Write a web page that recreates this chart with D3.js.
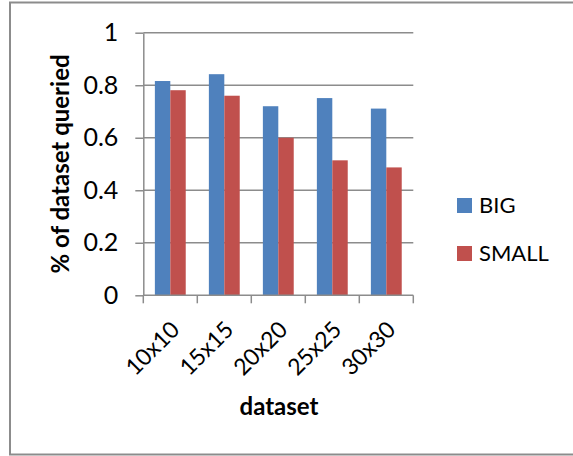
<!DOCTYPE html>
<html><head><meta charset="utf-8">
<script src="https://cdn.jsdelivr.net/npm/d3@7"></script>
<style>body{margin:0;background:#fff}svg{display:block}</style>
</head><body>
<script>
const categories = ["10x10","15x15","20x20","25x25","30x30"];
const seriesNames = ["BIG","SMALL"];
const bigValues = [0.816,0.842,0.720,0.751,0.711];
const smallValues = [0.781,0.760,0.600,0.514,0.487];
const yTicks = [0,0.2,0.4,0.6,0.8,1];
const colors = ["#4F81BD","#C0504D"];

(function(){
const W=573,H=456;
const svg=d3.select("body").append("svg").attr("width",W).attr("height",H);
const font="Lato, 'Open Sans', sans-serif";
svg.append("rect").attr("x",10).attr("y",2.5).attr("width",580).attr("height",452)
  .attr("fill","#fff").attr("stroke","#8c8c8c").attr("stroke-width",2);

const pL=143.3,pR=413.3,pT=32.7,pB=295.3;
const x=d3.scaleBand().domain(categories).range([pL,pR]).paddingInner(0).paddingOuter(0);
const bw=x.bandwidth()/3.5;
const xs=d3.scaleBand().domain(seriesNames).range([x.bandwidth()*0.75/3.5, x.bandwidth()*0.75/3.5+2*bw]);
const y=d3.scaleLinear().domain([0,1]).range([pB,pT]);

// gridlines
svg.append("g").selectAll("line").data(yTicks.filter(d=>d>0)).join("line")
  .attr("x1",pL).attr("x2",pR).attr("y1",d=>y(d)).attr("y2",d=>y(d))
  .attr("stroke","#8c8c8c").attr("stroke-width",1.5);

// bars
const data=categories.map((c,i)=>({c,vals:[bigValues[i],smallValues[i]]}));
const g=svg.append("g").selectAll("g").data(data).join("g").attr("transform",d=>`translate(${x(d.c)},0)`);
g.selectAll("rect").data(d=>d.vals.map((v,j)=>({v,s:seriesNames[j],j}))).join("rect")
  .attr("x",d=>xs(d.s)).attr("width",xs.bandwidth()).attr("y",d=>y(d.v)).attr("height",d=>y(0)-y(d.v))
  .attr("fill",d=>colors[d.j]);

// y axis
const yAxis=svg.append("g").attr("transform",`translate(${pL},0)`)
  .call(d3.axisLeft(y).tickValues(yTicks).tickFormat(d=>d3.format("")(d)).tickSize(8).tickSizeOuter(0));
yAxis.select(".domain").attr("stroke","#8c8c8c").attr("stroke-width",1.5);
yAxis.selectAll(".tick line").attr("stroke","#8c8c8c").attr("stroke-width",1.5);
yAxis.selectAll(".tick text").attr("x",-25).attr("font-family",font).attr("font-size",25).attr("fill","#000");

// x axis
const xAxis=svg.append("g").attr("transform",`translate(0,${pB})`);
xAxis.append("line").attr("x1",pL).attr("x2",pR).attr("y1",0).attr("y2",0).attr("stroke","#8c8c8c").attr("stroke-width",1.5);
const bounds=categories.map(c=>x(c)).concat([pR]);
xAxis.selectAll("line.t").data(bounds).join("line").attr("class","t")
  .attr("x1",d=>d).attr("x2",d=>d).attr("y1",0).attr("y2",8).attr("stroke","#8c8c8c").attr("stroke-width",1.5);
xAxis.selectAll("text").data(categories).join("text")
  .attr("transform",d=>`translate(${x(d)+x.bandwidth()/2+5},${30}) rotate(-45)`)
  .attr("text-anchor","end").attr("dy","0.35em")
  .attr("font-family",font).attr("font-size",23).attr("fill","#000").text(d=>d);

// axis titles
svg.append("text").attr("transform",`translate(69,164) rotate(-90)`).attr("text-anchor","middle")
  .attr("font-family",font).attr("font-weight","bold").attr("font-size",24).attr("fill","#000").text("% of dataset queried");
svg.append("text").attr("x",279).attr("y",415).attr("text-anchor","middle")
  .attr("font-family",font).attr("font-weight","bold").attr("font-size",24).attr("fill","#000").text("dataset");

// legend
const lg=svg.append("g").selectAll("g").data(seriesNames).join("g")
  .attr("transform",(d,i)=>`translate(457,${205.5+i*48})`);
lg.append("rect").attr("x",0).attr("y",-7.5).attr("width",15).attr("height",15).attr("fill",(d,i)=>colors[i]);
lg.append("text").attr("x",22).attr("y",0).attr("dy","0.36em").attr("font-family",font).attr("font-size",22).attr("fill","#000").text(d=>d);
})();
</script>
</body></html>
